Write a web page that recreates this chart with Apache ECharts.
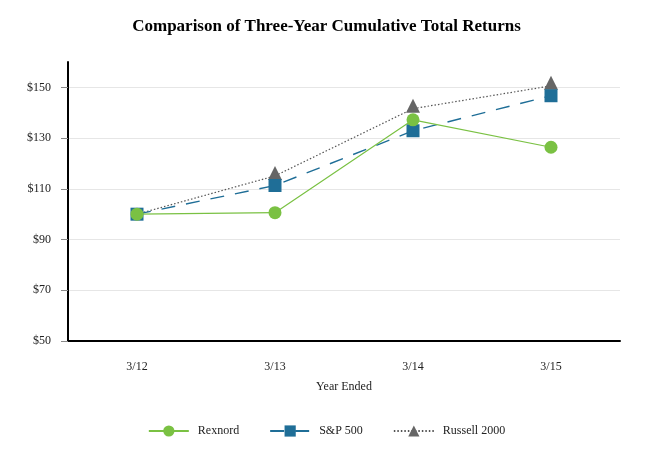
<!DOCTYPE html>
<html>
<head>
<meta charset="utf-8">
<script src="https://cdn.jsdelivr.net/npm/echarts@6/dist/echarts.min.js"></script>
<style>
  html, body { margin: 0; padding: 0; background: #fff; }
  #chart-container { width: 653px; height: 466px; }
</style>
</head>
<body>
<div id="chart-container"></div>
<script>
const years = ['3/12', '3/13', '3/14', '3/15']
const rexnord = [100, 100.6, 137.2, 126.4]
const sp500 = [100, 111.3, 132.9, 146.7]
const russell = [100, 115.1, 141.6, 150.6]
const yTicks = [50, 70, 90, 110, 130, 150]

const font = 'Liberation Serif'

const myChart = echarts.init(document.getElementById('chart-container'))
const option = {
    animation: false,
    textStyle: { fontFamily: font },
    title: {
        text: 'Comparison of Three-Year Cumulative Total Returns',
        left: 'center',
        top: 13,
        textStyle: { fontFamily: font, fontSize: 17, fontWeight: 'bold', color: '#000' }
    },
    legend: {
        bottom: 24,
        left: 'center',
        itemWidth: 40,
        itemHeight: 14,
        itemGap: 30,
        textStyle: { fontFamily: font, fontSize: 12, color: '#222', padding: [0, 0, 0, 4] },
        data: ['Rexnord', 'S&P 500', 'Russell 2000']
    },
    grid: { left: 68, right: 33, top: 62, bottom: 125 },
    xAxis: {
        type: 'category',
        data: years,
        name: 'Year Ended',
        nameLocation: 'middle',
        nameGap: 40,
        nameTextStyle: { fontFamily: font, fontSize: 12, color: '#222' },
        axisLine: { lineStyle: { color: '#000', width: 2 } },
        axisTick: { alignWithLabel: true, length: 6, lineStyle: { color: '#888' } },
        axisLabel: { fontFamily: font, fontSize: 12, color: '#222', margin: 20 }
    },
    yAxis: {
        type: 'value',
        min: 50,
        max: 160,
        interval: 20,
        axisLine: { show: true, lineStyle: { color: '#000', width: 2 } },
        axisTick: { show: true, length: 7, customValues: yTicks, lineStyle: { color: '#888' } },
        axisLabel: {
            fontFamily: font, fontSize: 12, color: '#222', margin: 17,
            customValues: yTicks,
            formatter: v => '$' + v
        },
        splitLine: {
            lineStyle: {
                color: ['#e6e6e6', '#e6e6e6', '#e6e6e6', '#e6e6e6', '#e6e6e6', '#e6e6e6', 'rgba(0,0,0,0)'],
                width: 1
            }
        }
    },
    series: [
        {
            name: 'Rexnord',
            type: 'line',
            data: rexnord,
            symbol: 'circle',
            symbolSize: 13,
            z: 4,
            itemStyle: { color: '#7ac143' },
            lineStyle: { color: '#7ac143', width: 1.2 }
        },
        {
            name: 'S&P 500',
            type: 'line',
            data: sp500,
            symbol: 'rect',
            symbolSize: 13,
            z: 3,
            itemStyle: { color: '#1f6e97' },
            lineStyle: { color: '#1f6e97', width: 1.4, type: [14, 11] }
        },
        {
            name: 'Russell 2000',
            type: 'line',
            data: russell.map((v, i) => i === 0 ? { value: v, symbol: 'none' } : v),
            symbol: 'triangle',
            symbolSize: 14,
            symbolOffset: [0, -3],
            z: 2,
            itemStyle: { color: '#666666' },
            lineStyle: { color: '#555', width: 1.2, type: [1.5, 2] }
        }
    ]
}
option && myChart.setOption(option)
</script>
</body>
</html>
